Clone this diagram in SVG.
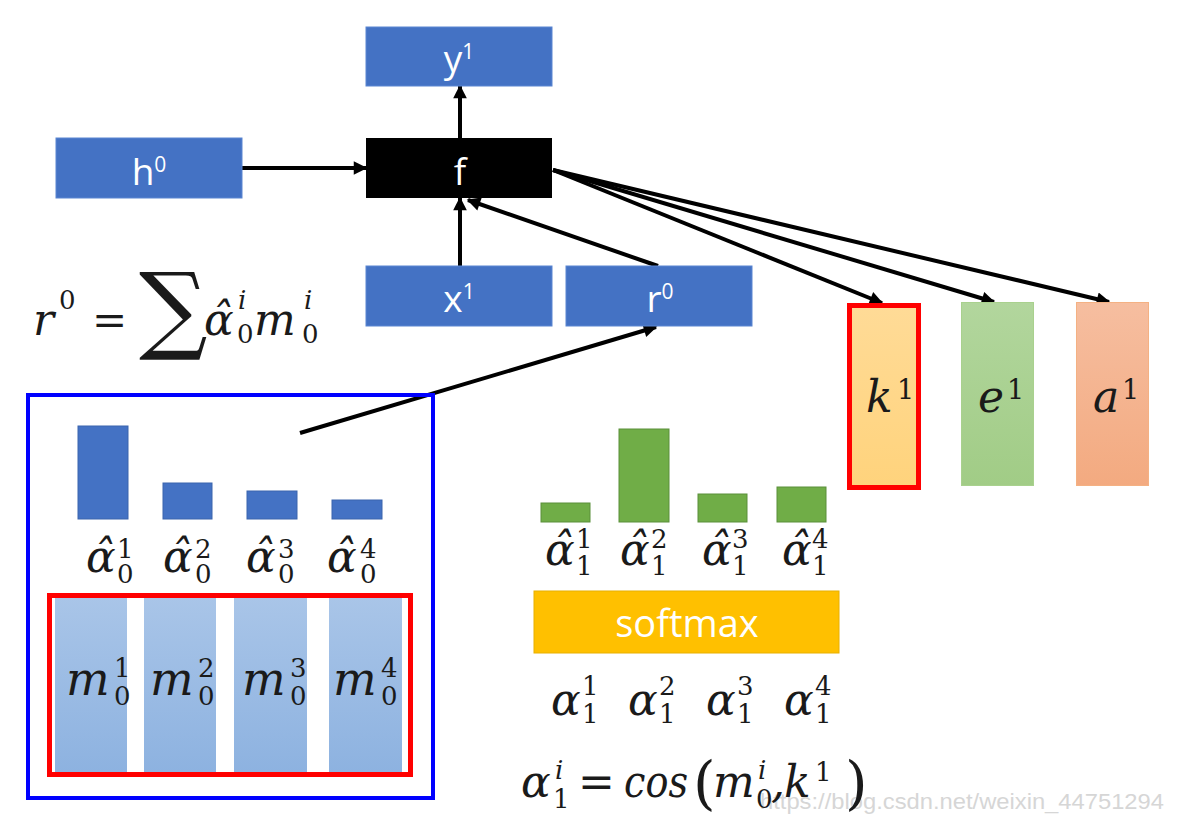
<svg xmlns="http://www.w3.org/2000/svg" width="1192" height="825" viewBox="0 0 1192 825">
<defs>
<marker id="arr" viewBox="0 0 10 10" refX="9" refY="5" markerWidth="4" markerHeight="3.4" orient="auto" markerUnits="strokeWidth"><path d="M0,0 L10,5 L0,10 z" fill="#000"/></marker>
<linearGradient id="gm" x1="0" y1="0" x2="0" y2="1"><stop offset="0" stop-color="#A9C5E8"/><stop offset="1" stop-color="#8DB2E0"/></linearGradient>
<linearGradient id="gk" x1="0" y1="0" x2="0" y2="1"><stop offset="0" stop-color="#FFDB97"/><stop offset="1" stop-color="#FFD37C"/></linearGradient>
<linearGradient id="ge" x1="0" y1="0" x2="0" y2="1"><stop offset="0" stop-color="#B2D69D"/><stop offset="1" stop-color="#A1CC86"/></linearGradient>
<linearGradient id="ga" x1="0" y1="0" x2="0" y2="1"><stop offset="0" stop-color="#F6BEA0"/><stop offset="1" stop-color="#F3AA80"/></linearGradient>
</defs>
<style>
.box{fill:#4472C4;stroke:#5A86D2;stroke-width:1}
.lbl{font-family:"Open Sans",sans-serif;font-size:37px;fill:#fff}
.mi{font-family:"DejaVu Serif",serif;font-style:italic;fill:#1a1a1a}
.dg{font-family:"DejaVu Serif",serif;font-style:normal;fill:#1a1a1a}
.conn{stroke:#000;stroke-width:4;fill:none;marker-end:url(#arr)}
.bb{fill:#4472C4;stroke:#3A64AD;stroke-width:1}
.gb{fill:#70AD47;stroke:#5A8F3A;stroke-width:1}
.mc{fill:url(#gm)}
</style>
<rect width="1192" height="825" fill="#fff"/>

<text id="watermark" x="760" y="809" font-family="Liberation Sans, sans-serif" font-size="22" fill="#d6d6d6" textLength="404" lengthAdjust="spacingAndGlyphs">https://blog.csdn.net/weixin_44751294</text>

<g id="connectors">
<line class="conn" x1="242" y1="168" x2="366" y2="168"/>
<line class="conn" x1="460" y1="138" x2="460" y2="86"/>
<line class="conn" x1="460" y1="266" x2="460" y2="198"/>
<line class="conn" x1="658" y1="266" x2="468" y2="200"/>
<line class="conn" x1="553" y1="170" x2="882" y2="303"/>
<line class="conn" x1="553" y1="170" x2="994" y2="302"/>
<line class="conn" x1="553" y1="170" x2="1109" y2="302"/>
<line class="conn" x1="300" y1="433" x2="656" y2="327"/>
</g>

<g id="node-y1"><rect class="box" x="366" y="27" width="186" height="59"/><text class="lbl" x="459" y="72" text-anchor="middle">y<tspan font-size="21" dy="-13">1</tspan></text></g>
<g id="node-h0"><rect class="box" x="56" y="138" width="186" height="60"/><text class="lbl" x="149" y="185" text-anchor="middle">h<tspan font-size="21" dy="-13">0</tspan></text></g>
<g id="node-f"><rect x="366" y="138" width="186" height="60" fill="#000"/><text class="lbl" x="460" y="185" text-anchor="middle">f</text></g>
<g id="node-x1"><rect class="box" x="366" y="266" width="186" height="60"/><text class="lbl" x="459" y="312" text-anchor="middle">x<tspan font-size="21" dy="-13">1</tspan></text></g>
<g id="node-r0"><rect class="box" x="566" y="266" width="186" height="60"/><text class="lbl" x="660" y="312" text-anchor="middle">r<tspan font-size="21" dy="-13">0</tspan></text></g>

<g id="node-k1"><rect x="849.5" y="305.5" width="69" height="182" fill="url(#gk)" stroke="#FF0000" stroke-width="5"/><text class="mi" x="866" y="412" font-size="44">k</text><text class="dg" x="897" y="399" font-size="27">1</text></g>
<g id="node-e1"><rect x="961.5" y="302.5" width="72" height="183" fill="url(#ge)" stroke="#A9D18E" stroke-width="1"/><text class="mi" x="978" y="412" font-size="44">e</text><text class="dg" x="1007" y="399" font-size="27">1</text></g>
<g id="node-a1"><rect x="1076.5" y="302.5" width="72" height="183" fill="url(#ga)" stroke="#F4B183" stroke-width="1"/><text class="mi" x="1093" y="412" font-size="44">a</text><text class="dg" x="1122" y="399" font-size="27">1</text></g>

<g id="formula-r0">
<text class="mi" x="33" y="335" font-size="44">r</text>
<text class="dg" x="59" y="309" font-size="26">0</text>
<text class="dg" x="92" y="335" font-size="42">=</text>
<text class="dg" x="139" y="341" font-size="96">∑</text>
<text class="mi" x="204" y="335" font-size="44">α̂</text>
<text class="mi" x="238" y="309" font-size="26">i</text>
<text class="dg" x="237" y="343" font-size="26">0</text>
<text class="mi" x="254" y="335" font-size="44">m</text>
<text class="mi" x="304" y="309" font-size="26">i</text>
<text class="dg" x="302" y="343" font-size="26">0</text>
</g>

<g id="memory">
<rect x="28" y="395" width="405" height="403" fill="none" stroke="#0000FF" stroke-width="4"/>
<rect class="bb" x="78" y="426" width="50" height="93"/>
<rect class="bb" x="163" y="483" width="49" height="36"/>
<rect class="bb" x="247" y="491" width="50" height="28"/>
<rect class="bb" x="332" y="500" width="50" height="19"/>
<text class="mi" x="86" y="572" font-size="44">α̂</text><text class="dg" x="117" y="558" font-size="26">1</text><text class="dg" x="117" y="583" font-size="26">0</text>
<text class="mi" x="163" y="572" font-size="44">α̂</text><text class="dg" x="195" y="558" font-size="26">2</text><text class="dg" x="195" y="583" font-size="26">0</text>
<text class="mi" x="246" y="572" font-size="44">α̂</text><text class="dg" x="278" y="558" font-size="26">3</text><text class="dg" x="278" y="583" font-size="26">0</text>
<text class="mi" x="327" y="572" font-size="44">α̂</text><text class="dg" x="360" y="558" font-size="26">4</text><text class="dg" x="360" y="583" font-size="26">0</text>
<rect class="mc" x="55" y="597" width="72" height="176"/>
<rect class="mc" x="144" y="597" width="72" height="176"/>
<rect class="mc" x="234" y="597" width="73" height="176"/>
<rect class="mc" x="329" y="597" width="73" height="176"/>
<rect x="49.5" y="595.5" width="361" height="179" fill="none" stroke="#FF0000" stroke-width="5"/>
<text class="mi" x="66" y="695" font-size="46">m</text><text class="dg" x="114" y="677" font-size="26">1</text><text class="dg" x="114" y="705" font-size="26">0</text>
<text class="mi" x="150" y="695" font-size="46">m</text><text class="dg" x="198" y="677" font-size="26">2</text><text class="dg" x="198" y="705" font-size="26">0</text>
<text class="mi" x="242" y="695" font-size="46">m</text><text class="dg" x="290" y="677" font-size="26">3</text><text class="dg" x="290" y="705" font-size="26">0</text>
<text class="mi" x="333" y="695" font-size="46">m</text><text class="dg" x="381" y="677" font-size="26">4</text><text class="dg" x="381" y="705" font-size="26">0</text>
</g>

<g id="scores">
<rect class="gb" x="541" y="503" width="49" height="19"/>
<rect class="gb" x="619" y="429" width="50" height="93"/>
<rect class="gb" x="698" y="494" width="49" height="28"/>
<rect class="gb" x="777" y="487" width="49" height="35"/>
<text class="mi" x="545" y="565" font-size="44">α̂</text><text class="dg" x="576" y="548" font-size="26">1</text><text class="dg" x="576" y="575" font-size="26">1</text>
<text class="mi" x="620" y="565" font-size="44">α̂</text><text class="dg" x="651" y="548" font-size="26">2</text><text class="dg" x="651" y="575" font-size="26">1</text>
<text class="mi" x="702" y="565" font-size="44">α̂</text><text class="dg" x="732" y="548" font-size="26">3</text><text class="dg" x="732" y="575" font-size="26">1</text>
<text class="mi" x="782" y="565" font-size="44">α̂</text><text class="dg" x="812" y="548" font-size="26">4</text><text class="dg" x="812" y="575" font-size="26">1</text>
</g>

<g id="softmax"><rect x="534" y="591" width="305" height="62" fill="#FFC000" stroke="#E8B000" stroke-width="1"/><text x="687" y="637" text-anchor="middle" font-family="Open Sans, sans-serif" font-size="38" fill="#fff">softmax</text></g>

<g id="alphas">
<text class="mi" x="551" y="715" font-size="44">α</text><text class="dg" x="582" y="695" font-size="26">1</text><text class="dg" x="582" y="723" font-size="26">1</text>
<text class="mi" x="628" y="715" font-size="44">α</text><text class="dg" x="659" y="695" font-size="26">2</text><text class="dg" x="659" y="723" font-size="26">1</text>
<text class="mi" x="706" y="715" font-size="44">α</text><text class="dg" x="737" y="695" font-size="26">3</text><text class="dg" x="737" y="723" font-size="26">1</text>
<text class="mi" x="784" y="715" font-size="44">α</text><text class="dg" x="815" y="695" font-size="26">4</text><text class="dg" x="815" y="723" font-size="26">1</text>
</g>

<g id="formula-cos">
<text class="mi" x="521" y="797" font-size="44">α</text>
<text class="mi" x="555" y="779" font-size="26">i</text>
<text class="dg" x="553" y="808" font-size="26">1</text>
<text class="dg" x="578" y="797" font-size="44">=</text>
<text class="mi" x="624" y="797" font-size="44" textLength="64" lengthAdjust="spacingAndGlyphs">cos</text>
<text class="dg" x="693" y="803" font-size="58">(</text>
<text class="mi" x="713" y="797" font-size="44">m</text>
<text class="mi" x="758" y="779" font-size="26">i</text>
<text class="dg" x="756" y="808" font-size="26">0</text>
<text class="mi" x="771" y="797" font-size="44">,</text>
<text class="mi" x="784" y="797" font-size="44">k</text>
<text class="dg" x="815" y="781" font-size="26">1</text>
<text class="dg" x="845" y="803" font-size="58">)</text>
</g>
</svg>
